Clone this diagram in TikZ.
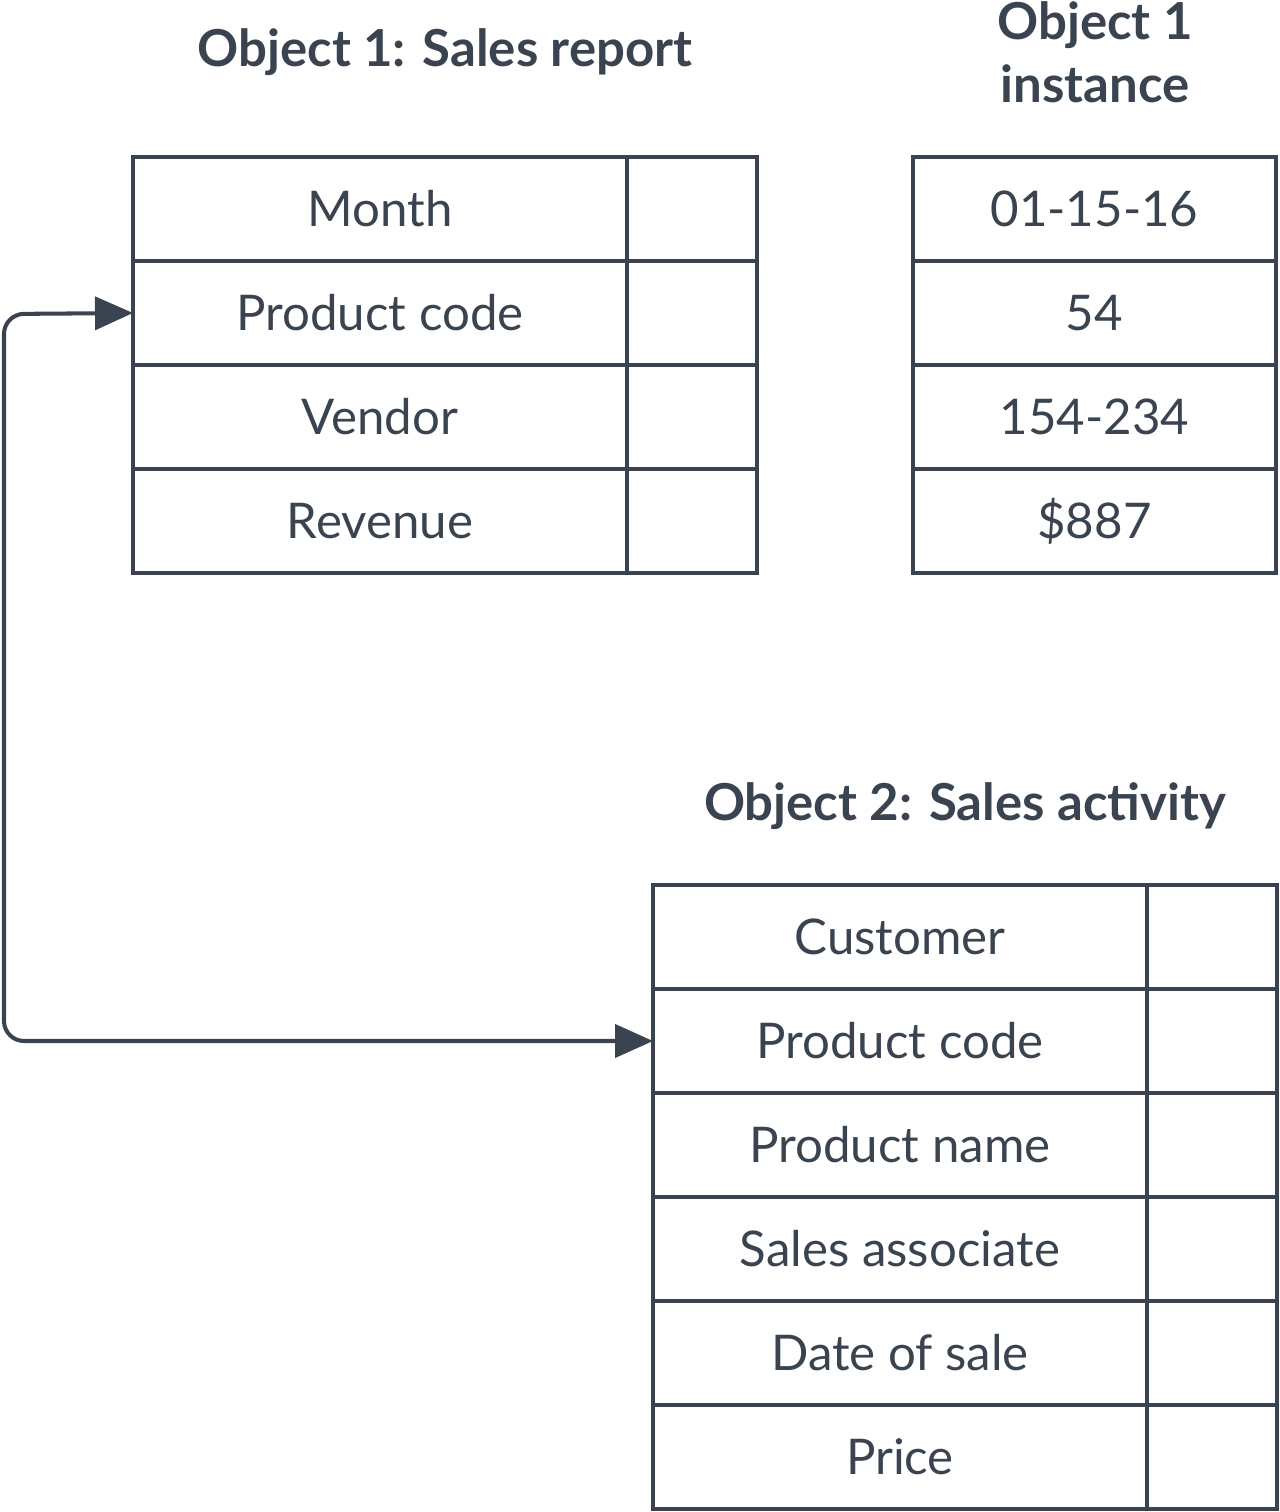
\documentclass[tikz,border=0pt]{standalone}
\usepackage{fontspec}
\setmainfont{Lato}
\usetikzlibrary{arrows.meta}
\definecolor{ink}{HTML}{3A4450}

\tikzset{
  cell/.style={draw=ink, line width=2.3pt, outer sep=0pt, inner sep=0pt,
    anchor=north west, minimum height=2.08cm, text=ink,
    font=\fontsize{28}{30}\selectfont},
  lbl/.style={cell, minimum width=9.88cm},
  val/.style={cell, minimum width=2.6cm},
  inst/.style={cell, minimum width=7.26cm},
  title/.style={text=ink, align=center, font=\fontsize{29}{36}\selectfont\bfseries},
  link/.style={draw=ink, line width=2.3pt, rounded corners=0.4cm,
    {Triangle[length=0.76cm,width=0.66cm]}-{Triangle[length=0.76cm,width=0.66cm]}}
}

\begin{document}
\begin{tikzpicture}[x=0.02cm,y=-0.02cm]
\useasboundingbox (0,0) rectangle (1280,1512);

% titles
\node[title] (t1) at (445,52) {Object 1: Sales report};
\node[title] (ti) at (1095,52) {Object 1\\instance};
\node[title] (t2) at (965,806) {Object 2: Sales activity};

% object 1
\foreach \t [count=\i] in {Month,Product code,Vendor,Revenue}{
  \node[lbl] (r\i) at (133,{157+104*(\i-1)}) {\t};
  \node[val] (rv\i) at (r\i.north east) {};
}

% object 1 instance
\foreach \t [count=\i] in {01-15-16,54,154-234,\$887}{
  \node[inst] (n\i) at (913,{157+104*(\i-1)}) {\t};
}

% object 2
\foreach \t [count=\i] in {Customer,Product code,Product name,Sales associate,Date of sale,Price}{
  \node[lbl] (s\i) at (653,{885+104*(\i-1)}) {\t};
  \node[val] (sv\i) at (s\i.north east) {};
}

% link
\coordinate (bend) at (4,314);
\draw[link] (r2.west) -- (bend) |- (s2.west);
\end{tikzpicture}
\end{document}
